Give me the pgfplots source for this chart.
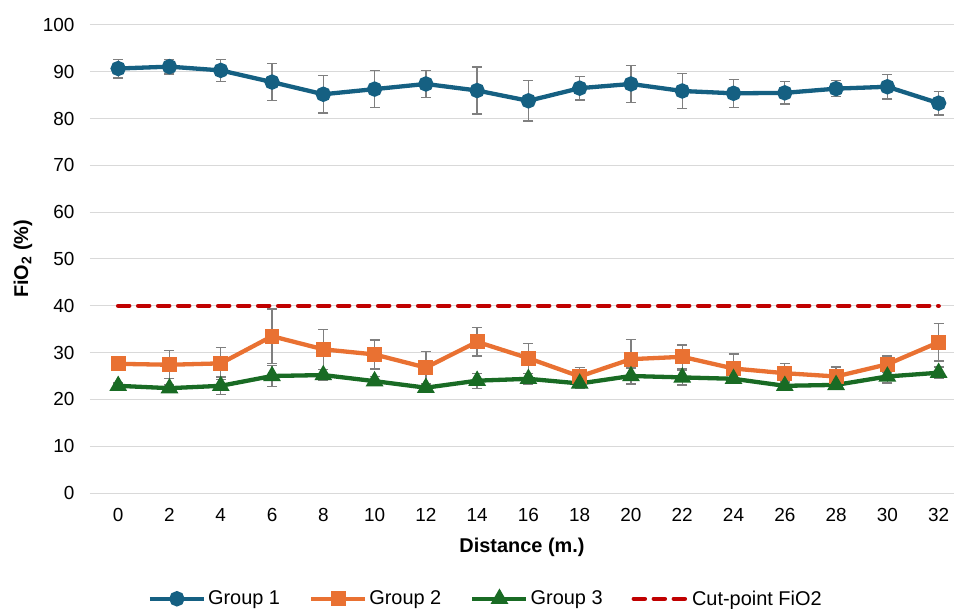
\documentclass[border=0pt]{standalone}
\usepackage{pgfplots}
\usepackage{pgfplotstable}
\pgfplotsset{compat=1.18}
\usepackage{fontspec}
\setmainfont{Liberation Sans}
\definecolor{gA}{HTML}{156082}
\definecolor{gB}{HTML}{E97132}
\definecolor{gC}{HTML}{196B24}
\definecolor{cut}{HTML}{C00000}
\definecolor{errc}{HTML}{7F7F7F}
\definecolor{gridc}{HTML}{D9D9D9}

\pgfplotstableread{
x  y1   e1   y2   e2   y3   e3
0  90.7 2.0  27.6 0.6  22.9 0.6
2  91.1 1.6  27.4 3.0  22.4 0.7
4  90.3 2.4  27.7 3.4  22.9 1.9
6  87.8 3.9  33.5 5.8  25.0 2.3
8  85.2 4.0  30.7 4.3  25.2 1.2
10 86.3 4.0  29.6 3.1  23.9 1.0
12 87.4 2.9  26.8 3.5  22.5 0.8
14 86.0 5.0  32.3 3.0  24.0 1.6
16 83.8 4.3  28.8 3.2  24.4 1.2
18 86.5 2.5  24.9 1.9  23.4 1.0
20 87.4 3.9  28.6 4.2  25.0 1.7
22 85.9 3.8  29.1 2.5  24.7 1.6
24 85.4 3.0  26.6 3.1  24.4 1.0
26 85.5 2.4  25.6 2.0  22.9 0.8
28 86.4 1.7  24.9 2.0  23.1 1.0
30 86.8 2.6  27.5 1.8  24.9 1.4
32 83.3 2.5  32.2 4.0  25.7 1.2
}\data

\pgfplotstableread{
x y
0 40
32 40
}\cutdata

\begin{document}
\begin{tikzpicture}
\useasboundingbox (-90bp,-116bp) rectangle (864bp,493bp);
\begin{axis}[
  at={(0,0)}, anchor=south west,
  scale only axis, width=864bp, height=468bp,
  xmin=-1.1, xmax=32.6, ymin=0, ymax=100,
  xtick={0,2,...,32}, ytick={0,10,...,100},
  axis line style={draw=none},
  major tick length=0pt,
  ymajorgrids, grid style={gridc, line width=1bp},
  font=\fontsize{20}{24}\selectfont,
  ticklabel style={font=\fontsize{19}{23}\selectfont, text=black},
  /pgf/number format/assume math mode=true,
  yticklabel style={xshift=-12bp},
  xticklabel style={yshift=-12bp},
  xlabel={\bfseries Distance (m.)},
  ylabel={\bfseries FiO\textsubscript{2} (\%)},
  xlabel style={at={(axis description cs:0.5,-0.117)}, anchor=center},
  ylabel style={at={(axis description cs:-0.0775,0.5)}, anchor=center, rotate=0},
  legend columns=4,
  legend style={at={(axis description cs:0.458,-0.226)}, anchor=center, draw=none,
    font=\fontsize{20}{24}\selectfont, column sep=0bp,
    /tikz/every even column/.append style={column sep=27bp}},
  legend cell align=left,
  legend image code/.code={
    \draw[mark repeat=2,mark phase=2,#1] plot coordinates {(0bp,0bp) (27bp,0bp) (54bp,0bp)};
  },
  error bars/y dir=both, error bars/y explicit,
  error bars/error bar style={errc, line width=1.3bp, solid},
  error bars/error mark options={errc, rotate=90, mark size=5bp, line width=1.3bp, solid},
]
\addplot[gA, line width=4.3bp, mark=*, mark size=5.5bp, mark options={solid, fill=gA, draw=gA}]
  table[x=x, y=y1, y error=e1] {\data};
\addlegendentry{Group 1}
\addplot[gB, line width=4.3bp, mark=square*, mark size=5.3bp, mark options={solid, fill=gB, draw=gB}]
  table[x=x, y=y2, y error=e2] {\data};
\addlegendentry{Group 2}
\addplot[gC, line width=4.3bp, mark=triangle*, mark size=6bp, mark options={solid, fill=gC, draw=gC}]
  table[x=x, y=y3, y error=e3] {\data};
\addlegendentry{Group 3}
\addplot[cut, line width=4.5bp, line cap=round, dash pattern=on 11bp off 9bp, mark=none,
  error bars/y dir=none]
  table[x=x, y=y] {\cutdata};
\addlegendentry{Cut-point FiO2}
\end{axis}
\end{tikzpicture}
\end{document}
